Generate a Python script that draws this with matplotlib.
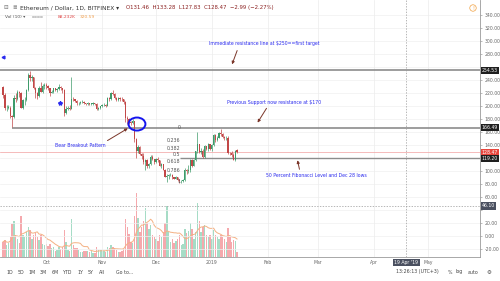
import numpy as np
import pandas as pd
import matplotlib
matplotlib.use('Agg')
import matplotlib.pyplot as plt
import matplotlib.dates as mdates
from matplotlib.patches import Ellipse

# ---------------- data (ETH/USD daily, Bitfinex) ----------------
start_date = '2018-09-07'
opens = [229, 216, 196, 197, 197, 185, 183, 212, 210, 222, 220, 197, 209, 209, 224, 248, 242, 244, 228, 219,
         215, 228, 222, 231, 232, 230, 227, 220, 222, 227, 225, 226, 229, 227, 225, 189, 195, 197, 195, 211,
         210, 208, 204, 204, 206, 206, 204, 203, 204, 203, 203, 204, 203, 195, 197, 199, 201, 202, 200, 212,
         210, 220, 218, 212, 209, 212, 211, 210, 206, 182, 180, 175, 173, 176, 149, 131, 136, 126, 123, 113,
         116, 108, 110, 122, 118, 113, 118, 116, 108, 110, 102, 91, 92, 93, 94, 90, 88, 90, 86, 84,
         84, 86, 101, 100, 101, 116, 108, 116, 130, 141, 129, 131, 121, 138, 134, 141, 133, 140, 155, 147,
         151, 158, 157, 152, 150, 151, 128, 127, 125, 116, 131.46]
highs = [231, 219, 201, 202, 199, 186, 216, 220, 224, 223, 221, 211, 214, 226, 251, 254, 248, 245, 229, 222,
         230, 236, 233, 235, 235, 232, 228, 225, 228, 228, 228, 233, 230, 228, 226, 199, 199, 201, 245, 214,
         211, 209, 206, 207, 209, 207, 205, 206, 205, 205, 206, 205, 204, 198, 200, 203, 205, 203, 213, 214,
         222, 224, 219, 213, 214, 213, 213, 211, 207, 185, 181, 176, 180, 177, 150, 140, 138, 127, 127, 118,
         119, 112, 124, 124, 119, 120, 121, 117, 112, 111, 103, 95, 96, 97, 95, 91, 92, 91, 87, 86,
         88, 104, 103, 109, 118, 119, 118, 131, 160, 142, 135, 134, 140, 139, 143, 142, 141, 157, 156, 153,
         160, 164, 159, 154, 153, 153, 129, 130, 127, 132, 133.28]
lows = [212, 193, 192, 195, 182, 167, 182, 206, 209, 213, 196, 195, 201, 208, 223, 238, 238, 226, 212, 210,
        214, 221, 220, 226, 226, 224, 215, 219, 220, 223, 222, 225, 225, 220, 185, 188, 193, 194, 195, 207,
        206, 202, 202, 203, 205, 203, 202, 202, 201, 201, 202, 202, 193, 194, 195, 198, 200, 198, 199, 208,
        209, 216, 210, 207, 208, 208, 207, 203, 175, 172, 172, 170, 172, 145, 120, 128, 125, 118, 111, 102,
        105, 104, 109, 116, 111, 112, 114, 107, 104, 101, 90, 83, 88, 92, 88, 87, 87, 85, 82, 82,
        83, 85, 95, 97, 99, 106, 107, 115, 128, 127, 126, 119.2, 120, 132, 131, 132, 131, 139, 145, 146,
        150, 154, 150, 148, 148, 126, 124, 122, 116, 115, 127.83]
closes = [216, 196, 197, 197, 185, 183, 212, 210, 222, 220, 197, 209, 209, 224, 248, 242, 244, 228, 219, 215,
          228, 222, 231, 232, 230, 227, 220, 222, 227, 225, 226, 229, 227, 225, 189, 195, 197, 195, 211, 210,
          208, 204, 204, 206, 206, 204, 203, 204, 203, 203, 204, 203, 195, 197, 199, 201, 202, 200, 212, 210,
          220, 218, 212, 209, 212, 211, 210, 206, 182, 180, 175, 173, 176, 149, 131, 136, 126, 123, 113, 116,
          108, 110, 122, 118, 113, 118, 116, 108, 110, 102, 91, 92, 93, 94, 90, 88, 90, 86, 84, 84,
          86, 101, 100, 101, 116, 108, 116, 130, 141, 129, 131, 121, 138, 134, 141, 133, 140, 155, 147, 151,
          158, 157, 152, 150, 151, 128, 127, 125, 116, 131, 128.47]
volumes_k = [264, 300, 211, 246, 352, 580, 616, 387, 317, 246, 704, 387, 352, 440, 528, 475, 317, 387, 422, 352,
             300, 387, 229, 211, 229, 194, 229, 158, 176, 106, 123, 176, 141, 176, 475, 264, 123, 106, 651, 211,
             158, 158, 123, 88, 88, 106, 106, 106, 88, 106, 70, 70, 176, 123, 123, 123, 106, 88, 176, 158,
             211, 176, 158, 123, 88, 88, 106, 141, 651, 528, 405, 264, 246, 704, 1109, 669, 440, 528, 616, 845,
             581, 493, 563, 387, 352, 317, 282, 387, 352, 440, 581, 880, 440, 264, 317, 246, 282, 317, 387, 211,
             229, 493, 422, 458, 581, 493, 317, 440, 933, 616, 440, 528, 563, 387, 352, 387, 317, 475, 387, 352,
             317, 387, 352, 317, 264, 510, 352, 264, 299, 282, 88]

level_resist = 254.53
level_support = 166.49
level_low = 119.20
last_price = 128.47
crosshair_price = 46.10
crosshair_date = '2019-04-19'
fib_levels = [0, 0.236, 0.382, 0.5, 0.618, 0.786, 1]
fib_high = 166.49
fib_low = 83.4
price_ticks = list(range(-20, 341, 20))
month_ticks = ['2018-10-01', '2018-11-01', '2018-12-01', '2019-01-01', '2019-02-01',
               '2019-03-01', '2019-04-01', '2019-05-01']
month_labels = ['Oct', 'Nov', 'Dec', '2019', 'Feb', 'Mar', 'Apr', 'May']

# ---------------- figure ----------------
W, H = 500, 281
fig = plt.figure(figsize=(5.0, 2.81), dpi=100)
fig.patch.set_facecolor('white')
ax = fig.add_axes([0, 24 / H, 480 / W, 257 / H])
axv = ax.twinx()
ax.set_zorder(axv.get_zorder() + 1)
ax.patch.set_visible(False)

dates = pd.date_range(start_date, periods=len(closes), freq='D')
x = mdates.date2num(dates)
x0 = x[0]
ax.set_xlim(x0 - 1.7, x0 + 265)
ax.set_ylim(-32.3, 362.6)

o = np.array(opens, float); h = np.array(highs, float)
l = np.array(lows, float); c = np.array(closes, float)
up = c >= o
col_up, col_dn = '#3f9b6b', '#c24848'
colors = np.where(up, col_up, col_dn)

# volume overlay
v = np.array(volumes_k, float)
vcols = np.where(up, '#a6dcc6', '#f5a9ad')
axv.bar(x, v, width=0.8, color=vcols, linewidth=0)
axv.plot(x, pd.Series(v).rolling(10, min_periods=1).mean(), color='#f4b183', lw=0.7)
axv.set_ylim(0, v.max() * 257 / 64)
axv.set_yticks([])
for s in axv.spines.values():
    s.set_visible(False)

# grid
for p in price_ticks:
    ax.axhline(p, color='#f0f0f0', lw=0.5, zorder=0)
for m in month_ticks:
    ax.axvline(mdates.datestr2num(m), color='#ececec', lw=0.5, zorder=0)

# candles
ax.vlines(x, l, h, colors=colors, lw=0.5, zorder=3)
body = np.maximum(np.abs(c - o), 0.6)
ax.bar(x, body, bottom=np.minimum(o, c), width=0.72, color=colors, linewidth=0, zorder=4)

# horizontal levels
ax.axhline(last_price, color='#f2a0a0', lw=0.5, zorder=2)
ax.axhline(level_resist, color='#8c8c8c', lw=1.2, zorder=2)
ax.hlines(level_support, x0 + 5, x0 + 265, color='#8c8c8c', lw=1.2, zorder=2)
ax.hlines(level_low, x0 + 98.3, x0 + 265, color='#8c8c8c', lw=1.0, zorder=2)

# crosshair
cx = mdates.datestr2num(crosshair_date)
ax.axvline(cx, color='#9a9a9a', lw=0.5, ls=(0, (2, 2)), zorder=2)
ax.axhline(crosshair_price, color='#9a9a9a', lw=0.5, ls=(0, (2, 2)), zorder=2)

# fib labels
for f in fib_levels:
    lab = '0' if f == 0 else ('1' if f == 1 else f'{f:g}')
    ax.text(x0 + 98.5, fib_high - f * (fib_high - fib_low), lab, fontsize=3.4, color='#555555',
            ha='right', va='center', zorder=5)

# annotations
blue = '#2a2aee'
arrow_col = '#7a3528'
fs = 3.3
ax.text(x0 + 114.4, 295, 'Immediate resistance line at $250==first target', fontsize=fs, color=blue,
        va='center', ha='left', zorder=6)
ax.annotate('', xy=(x0 + 126.7, 259.7), xytext=(x0 + 130.6, 288.9),
            arrowprops=dict(arrowstyle='-|>', color=arrow_col, lw=0.7, mutation_scale=4), zorder=6)
ax.text(x0 + 124.4, 204.4, 'Previous Support now resistance at $170', fontsize=fs, color=blue,
        va='center', ha='left', zorder=6)
ax.annotate('', xy=(x0 + 140.6, 170.6), xytext=(x0 + 147.2, 199.8),
            arrowprops=dict(arrowstyle='-|>', color=arrow_col, lw=0.7, mutation_scale=4), zorder=6)
ax.text(x0 + 28.9, 138.3, 'Bear Breakout Pattern', fontsize=fs, color=blue, va='center', ha='left', zorder=6)
ax.annotate('', xy=(x0 + 70.6, 167.5), xytext=(x0 + 56.7, 144.4),
            arrowprops=dict(arrowstyle='-|>', color=arrow_col, lw=0.7, mutation_scale=4), zorder=6)
ax.text(x0 + 146.1, 92.2, '50 Percent Fibonacci Level and Dec 28 lows', fontsize=fs, color=blue,
        va='center', ha='left', zorder=6)
ax.annotate('', xy=(x0 + 163.3, 120.5), xytext=(x0 + 165.0, 98.3),
            arrowprops=dict(arrowstyle='-|>', color=arrow_col, lw=0.7, mutation_scale=4), zorder=6)
ax.add_patch(Ellipse((x0 + 74.4, 172), 9.4, 20, fill=False, edgecolor='#1515ee', lw=1.4, zorder=7))
ax.plot([x0 + 31.7], [204.4], marker='*', color=blue, ms=3, zorder=6)
ax.plot([x0 + 0.2], [275], marker='<', color=blue, ms=2, zorder=6)

# axes styling: hide tick labels that sit under a price tag
tag_prices = [level_resist, level_support, last_price, level_low, crosshair_price]
ax.set_xticks([])
ax.yaxis.tick_right()
ax.set_yticks(price_ticks)
ax.set_yticklabels(['' if min(abs(p - t) for t in tag_prices) < 6.3 else f'{p:.2f}' for p in price_ticks],
                   fontsize=3.3, color='#666666')
ax.tick_params(axis='y', length=1.5, width=0.4, color='#888888', pad=2)
for side in ['top', 'left']:
    ax.spines[side].set_visible(False)
ax.spines['right'].set_color('#9a9a9a'); ax.spines['right'].set_linewidth(0.6)
ax.spines['bottom'].set_color('#9a9a9a'); ax.spines['bottom'].set_linewidth(0.6)

# month labels
for m, lab in zip(month_ticks, month_labels):
    ax.text(mdates.datestr2num(m), -37, lab, fontsize=3.3, color='#666666', ha='center', va='top',
            clip_on=False)
ax.text(cx, -37, "19 Apr '19", fontsize=3.3, color='white', ha='center', va='top', clip_on=False,
        bbox=dict(boxstyle='square,pad=0.3', fc='#4a5060', ec='none'))

# price tags
def tag(price, text, fc):
    ax.text(1.004, price, text, transform=ax.get_yaxis_transform(), fontsize=3.3, color='white',
            ha='left', va='center', clip_on=False, zorder=10,
            bbox=dict(boxstyle='square,pad=0.25', fc=fc, ec='none'))
tag(level_resist, f'{level_resist:.2f}', '#1f1f1f')
tag(level_support, f'{level_support:.2f}', '#1f1f1f')
tag(last_price, f'{last_price:.2f}', '#e8453c')
tag(level_low, f'{level_low:.2f}', '#1f1f1f')
tag(crosshair_price, f'{crosshair_price:.2f}', '#4a5060')

# header
def ftext(px, py, s, **kw):
    fig.text(px / W, 1 - py / H, s, va='center', **kw)
ftext(3, 7.5, '⊟', fontsize=4, color='#777777')
ftext(12, 7.5, '≣', fontsize=4, color='#777777')
ftext(20, 7.5, 'Ethereum / Dollar, 1D, BITFINEX ▾', fontsize=4.2, color='#333333')
ftext(126, 7.5, f'O{opens[-1]:.2f}  H{highs[-1]:.2f}  L{lows[-1]:.2f}  C{closes[-1]:.2f}  −2.99 (−2.27%)',
      fontsize=3.9, color='#8b2020')
ftext(5, 17, 'Vol (10) ▾', fontsize=3.2, color='#555555')
ftext(32, 17, '▫▫▫▫', fontsize=3.2, color='#999999')
ftext(58, 17, '88.232K', fontsize=3.2, color='#e04848')
ftext(80, 17, '320.59', fontsize=3.2, color='#f0a050')
fig.text(473 / W, 1 - 8 / H, '!', fontsize=3.5, color='#f0a040', ha='center', va='center',
         bbox=dict(boxstyle='circle,pad=0.15', fc='white', ec='#f0a040', lw=0.5))

# bottom toolbar
for px, s in zip([10, 21, 32, 43, 55, 68, 80, 91, 102, 125],
                 ['1D', '5D', '1M', '3M', '6M', 'YTD', '1Y', '5Y', 'All', 'Go to...']):
    fig.text(px / W, 1 - 272 / H, s, fontsize=3.4, color='#444444', ha='center', va='center')
fig.text(417 / W, 1 - 272 / H, '13:26:13 (UTC+3)', fontsize=3.4, color='#444444', ha='center', va='center')
fig.text(450 / W, 1 - 272 / H, '%', fontsize=3.4, color='#444444', ha='center', va='center')
fig.text(459 / W, 1 - 272 / H, 'log', fontsize=3.4, color='#444444', ha='center', va='center')
fig.text(473 / W, 1 - 272 / H, 'auto', fontsize=3.4, color='#444444', ha='center', va='center')
fig.text(489 / W, 1 - 272 / H, '⚙', fontsize=4, color='#444444', ha='center', va='center')

fig.savefig('out.png', dpi=100, facecolor='white')
